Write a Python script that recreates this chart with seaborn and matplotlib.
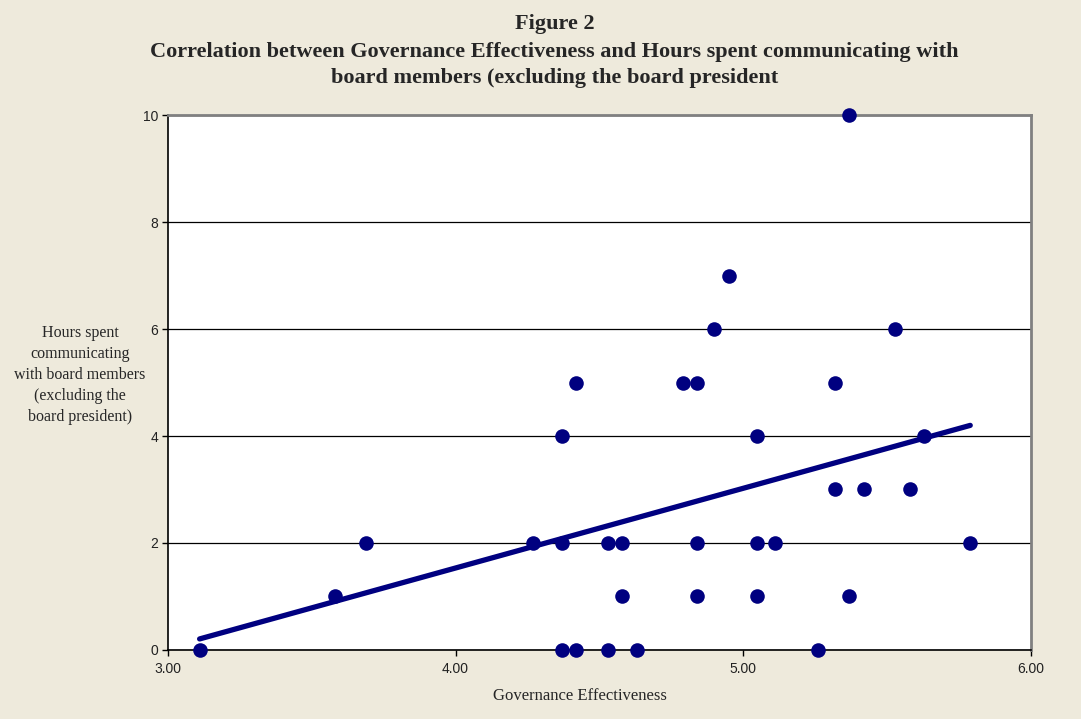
import numpy as np
import pandas as pd
import matplotlib
matplotlib.use("Agg")
import matplotlib.pyplot as plt
import seaborn as sns

# Governance effectiveness score vs hours spent communicating with board members
governance = [3.11, 3.58, 3.69, 4.27, 4.37, 4.37, 4.37, 4.42, 4.42, 4.53, 4.53,
              4.58, 4.58, 4.63, 4.79, 4.84, 4.84, 4.84, 4.90, 4.95, 5.05, 5.05,
              5.05, 5.11, 5.26, 5.32, 5.32, 5.37, 5.37, 5.42, 5.53, 5.58, 5.63, 5.79]
hours = [0, 1, 2, 2, 4, 2, 0, 5, 0, 2, 0,
         2, 1, 0, 5, 5, 2, 1, 6, 7, 4, 2,
         1, 2, 0, 5, 3, 10, 1, 3, 6, 3, 4, 2]

x_ticks = [3.0, 4.0, 5.0, 6.0]
y_ticks = [0, 2, 4, 6, 8, 10]

df = pd.DataFrame({"gov": governance, "hours": hours})

sns.set_style("white")
bg = "#EEEADC"
navy = "#000080"

fig = plt.figure(figsize=(10.81, 7.19), dpi=100, facecolor=bg)
ax = fig.add_axes([0.1554, 0.096, 0.798, 0.744])
ax.set_facecolor("white")

sns.regplot(data=df, x="gov", y="hours", ax=ax, ci=None, truncate=True,
            scatter_kws={"s": 110, "color": navy, "alpha": 1, "linewidths": 0,
                         "zorder": 3, "clip_on": False},
            line_kws={"color": navy, "lw": 3.8, "zorder": 4})

ax.set_xlim(3, 6)
ax.set_ylim(0, 10)
ax.set_xticks(x_ticks)
ax.set_xticklabels([f"{t:.2f}" for t in x_ticks], fontsize=10, color="#222222",
                   family="Liberation Sans")
ax.set_yticks(y_ticks)
ax.set_yticklabels([str(t) for t in y_ticks], fontsize=10, color="#222222",
                   family="Liberation Sans")
ax.yaxis.grid(True, color="black", lw=0.9)
ax.set_axisbelow(True)
ax.tick_params(axis="both", direction="out", length=4, width=1, color="black")
ax.tick_params(axis="x", pad=5)
ax.tick_params(axis="y", pad=3)
ax.xaxis.set_ticks_position("bottom")
ax.yaxis.set_ticks_position("left")

for side in ["left", "bottom"]:
    ax.spines[side].set_color("black")
    ax.spines[side].set_linewidth(1.2)
for side in ["top", "right"]:
    ax.spines[side].set_visible(True)
    ax.spines[side].set_color("#808080")
    ax.spines[side].set_linewidth(2)

ax.set_xlabel("")
ax.set_ylabel("")
fig.text(0.5365, 0.032, "Governance Effectiveness", ha="center", va="center",
         fontsize=12, family="Liberation Serif")
fig.text(0.074, 0.478, "Hours spent\ncommunicating\nwith board members\n(excluding the\nboard president)",
         ha="center", va="center", fontsize=11.5, family="Liberation Serif", linespacing=1.42)

fig.text(0.513, 0.966, "Figure 2", ha="center", va="center", fontsize=16,
         fontweight="bold", family="Liberation Serif")
fig.text(0.513, 0.928, "Correlation between Governance Effectiveness and Hours spent communicating with",
         ha="center", va="center", fontsize=16, fontweight="bold", family="Liberation Serif")
fig.text(0.513, 0.891, "board members (excluding the board president",
         ha="center", va="center", fontsize=16, fontweight="bold", family="Liberation Serif")

fig.savefig("out.png", dpi=100, facecolor=bg)
